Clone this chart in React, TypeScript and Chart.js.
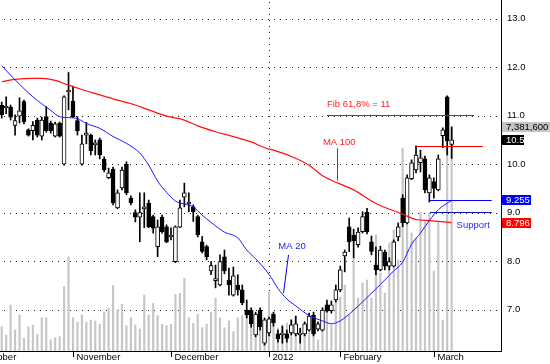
import React, { useEffect, useRef } from 'react';
import { Chart, registerables } from 'chart.js';

Chart.register(...registerables);

// ---- Data (daily candles, index 0..101) ----
const opens = [
  11.22, 11.16, 11.18, 10.80, 10.99, 11.29, 10.71, 10.69, 10.91, 10.58,
  10.98, 10.85, 10.58, 10.85, 10.00, 11.49, 11.30, 10.90, 10.00, 10.60,
  10.60, 10.40, 10.50, 10.10, 9.72, 9.90, 9.10, 9.51, 10.00, 9.30,
  9.00, 8.91, 9.08, 9.20, 8.92, 8.30, 8.91, 8.71, 8.50, 7.99,
  8.70, 9.32, 9.18, 9.12, 8.92, 8.40, 8.30, 7.80, 7.60, 7.51,
  8.09, 7.61, 7.30, 7.51, 7.41, 6.99, 6.99, 6.48, 6.99, 6.31,
  6.52, 6.91, 6.50, 6.48, 6.50, 6.52, 6.50, 6.48, 6.50, 6.58,
  6.89, 6.60, 6.58, 7.10, 6.98, 7.20, 7.41, 8.11, 8.71, 8.54,
  8.34, 8.61, 9.01, 8.40, 7.92, 7.82, 8.19, 7.90, 7.90, 8.50,
  9.30, 8.79, 9.70, 9.88, 10.03, 10.11, 9.41, 9.64, 9.47, 10.59,
  11.39, 10.41,
];
const highs = [
  11.28, 11.39, 11.22, 11.02, 11.37, 11.32, 10.73, 10.88, 10.95, 10.97,
  11.19, 10.89, 10.87, 10.87, 11.41, 11.89, 11.61, 10.98, 10.60, 10.86,
  10.62, 10.50, 10.54, 10.15, 9.92, 9.94, 9.47, 9.94, 10.05, 9.35,
  9.06, 9.41, 9.41, 9.26, 8.95, 8.85, 8.95, 8.75, 8.69, 8.73,
  9.26, 9.61, 9.41, 9.16, 8.95, 8.51, 8.33, 7.99, 7.92, 8.13,
  8.23, 7.86, 7.88, 7.72, 7.51, 7.20, 7.04, 6.95, 7.04, 6.83,
  6.85, 6.95, 6.58, 6.66, 6.58, 6.79, 6.87, 6.62, 6.75, 6.93,
  6.95, 6.75, 7.04, 7.20, 7.18, 7.51, 7.90, 8.23, 8.89, 8.66,
  8.69, 9.02, 9.09, 8.52, 8.29, 8.31, 8.23, 8.07, 8.44, 8.79,
  9.37, 9.78, 10.09, 10.38, 10.29, 10.17, 9.78, 9.72, 10.19, 10.75,
  11.41, 10.77,
];
const lows = [
  10.95, 11.04, 10.91, 10.60, 10.85, 10.83, 10.58, 10.50, 10.56, 10.50,
  10.66, 10.64, 10.56, 10.56, 9.98, 11.12, 10.96, 10.60, 9.98, 10.42,
  10.19, 10.19, 10.11, 9.84, 9.70, 9.16, 9.08, 9.47, 9.37, 9.16,
  8.81, 8.40, 8.69, 8.69, 8.58, 8.09, 8.58, 8.38, 8.44, 7.97,
  8.69, 9.12, 9.02, 8.82, 8.50, 8.17, 8.03, 7.72, 7.45, 7.49,
  7.74, 7.30, 7.28, 7.30, 7.10, 6.83, 6.64, 6.44, 6.58, 6.27,
  6.46, 6.66, 6.33, 6.31, 6.33, 6.48, 6.46, 6.31, 6.46, 6.56,
  6.46, 6.56, 6.56, 6.95, 6.93, 7.16, 7.37, 7.78, 8.20, 8.07,
  8.29, 8.58, 8.56, 8.13, 7.72, 7.80, 7.82, 7.82, 7.88, 8.42,
  8.71, 8.77, 9.68, 9.82, 9.84, 9.41, 9.22, 9.30, 9.45, 10.34,
  10.19, 10.12,
];
const closes = [
  11.02, 11.20, 10.97, 10.90, 11.10, 10.87, 10.60, 10.80, 10.60, 10.91,
  10.69, 10.69, 10.83, 10.58, 11.39, 11.53, 10.98, 10.69, 10.42, 10.64,
  10.28, 10.44, 10.19, 9.88, 9.82, 9.20, 9.41, 9.88, 9.41, 9.20,
  8.91, 9.00, 9.12, 8.71, 8.68, 8.71, 8.61, 8.40, 8.54, 8.71,
  9.10, 9.41, 9.22, 9.02, 8.54, 8.20, 8.09, 7.91, 7.64, 7.99,
  7.80, 7.51, 7.70, 7.41, 7.14, 6.89, 6.71, 6.91, 6.65, 6.79,
  6.81, 6.73, 6.40, 6.52, 6.41, 6.69, 6.71, 6.52, 6.71, 6.87,
  6.50, 6.71, 6.99, 6.97, 7.10, 7.41, 7.82, 8.19, 8.40, 8.42,
  8.60, 8.92, 8.61, 8.20, 7.82, 8.23, 7.90, 7.99, 8.40, 8.71,
  8.79, 9.72, 10.03, 10.19, 10.13, 9.47, 9.72, 9.50, 10.11, 10.71,
  10.48, 10.50,
];
const volumes = [
  831000, 558000, 1544000, 723000, 1215000, 450000, 831000, 887000, 581000, 1127000,
  1127000, 394000, 470000, 503000, 2145000, 3131000, 1127000, 976000, 1215000, 976000,
  1051000, 1018000, 910000, 1304000, 1436000, 2178000, 1380000, 1567000, 864000, 1127000,
  887000, 756000, 1873000, 1215000, 1600000, 1192000, 910000, 864000, 910000, 1895000,
  1928000, 2421000, 1127000, 943000, 1238000, 798000, 910000, 1304000, 1764000, 1127000,
  798000, 1018000, 667000, 1127000, 1192000, 1380000, 1314000, 1117000, 1445000, 1051000,
  1971000, 953000, 788000, 887000, 953000, 1051000, 1150000, 723000, 953000, 887000,
  1150000, 394000, 821000, 1610000, 887000, 1774000, 1807000, 2201000, 1215000, 3088000,
  1774000, 2267000, 2365000, 1774000, 3844000, 2595000, 1938000, 3581000, 4008000, 3022000,
  6702000, 4271000, 3909000, 3745000, 4599000, 4271000, 4566000, 2661000, 4271000, 1051000,
  6734000, 7381600,
];

// Moving averages (candle index -> value)
const ma20Idx = [0, 3, 7, 11, 13, 15, 17, 19, 22, 25, 28, 31, 33, 35, 37, 39, 41, 43, 45, 47, 50, 53, 55, 57, 60, 62, 64, 66, 69, 72, 74, 76, 79, 82, 85, 88, 90, 92, 94, 96, 98, 101];
const ma20Val = [12.03, 11.74, 11.39, 11.11, 10.98, 10.96, 10.94, 10.84, 10.74, 10.57, 10.43, 10.23, 9.98, 9.65, 9.42, 9.24, 9.18, 9.12, 8.95, 8.80, 8.60, 8.48, 8.23, 8.05, 7.73, 7.44, 7.22, 7.08, 6.88, 6.77, 6.71, 6.77, 6.99, 7.25, 7.52, 7.80, 7.98, 8.35, 8.58, 8.84, 9.06, 9.255];
const ma100Idx = [0, 3, 7, 9, 12, 15, 18, 22, 26, 30, 33, 37, 41, 44, 48, 52, 56, 59, 61, 65, 69, 72, 74, 79, 84, 90, 93, 96, 101];
const ma100Val = [11.70, 11.75, 11.77, 11.77, 11.73, 11.63, 11.54, 11.43, 11.32, 11.22, 11.12, 10.99, 10.91, 10.79, 10.67, 10.57, 10.46, 10.34, 10.29, 10.16, 9.98, 9.76, 9.67, 9.47, 9.19, 8.97, 8.86, 8.835, 8.796];

// Axis labels
const priceTicks = [7, 8, 9, 10, 11, 12, 13];
const monthLabels = ['October', 'November', 'December', '2012', 'February', 'March'];
const monthStarts = [-5, 16, 38, 60, 76, 97];

// Annotation levels
const fibLevel = 11;
const resistanceLevel = 10.37;
const supportLevel = 9.0;

// Annotation placements in data coordinates (candle index, price)
const hLines = [
  { level: fibLevel, from: 73, to: 106, color: '#ff0000' },
  { level: resistanceLevel, from: 93.2, to: 108, color: '#ff0000' },
  { level: ma20Val[ma20Val.length - 1], from: 96.1, to: 110, color: '#0000ff' },
  { level: supportLevel, from: 96.1, to: 110, color: '#1010b0' },
];
const pointers = [
  { x1: 75.2, y1: 10.33, x2: 75.2, y2: 9.66, color: '#ff0000' },
  { x1: 64.3, y1: 8.13, x2: 63.2, y2: 7.34, color: '#0000ff' },
];
const notes = [
  { text: 'Fib 61,8% = 11', x: 73, y: 11.24, color: '#ff2020' },
  { text: 'MA 100', x: 72.1, y: 10.46, color: '#ff2020' },
  { text: 'MA 20', x: 62.1, y: 8.3, color: '#2020ff' },
  { text: 'Support', x: 102.1, y: 8.73, color: '#2a2aff' },
];

const FONT = '9.5px "Liberation Sans", Arial, sans-serif';

const decor: any = {
  id: 'decor',
  beforeDraw(chart: any) {
    const { ctx, width, height } = chart;
    ctx.save();
    ctx.fillStyle = '#ffffff';
    ctx.fillRect(0, 0, width, height);
    ctx.restore();
  },
  beforeDatasetsDraw(chart: any) {
    const { ctx, chartArea: a, scales } = chart;
    const xs = scales.x, ys = scales.y;
    ctx.save();
    ctx.strokeStyle = '#202020';
    ctx.lineWidth = 1;
    ctx.setLineDash([1, 5]);
    for (const t of priceTicks) {
      const py = Math.round(ys.getPixelForValue(t)) + 0.5;
      ctx.beginPath();
      ctx.moveTo(a.left + 4, py);
      ctx.lineTo(a.right - 1, py);
      ctx.stroke();
    }
    const px = Math.round(xs.getPixelForValue(monthStarts[3])) + 0.5;
    ctx.beginPath();
    ctx.moveTo(px, a.top + 2);
    ctx.lineTo(px, a.bottom);
    ctx.stroke();
    ctx.restore();
  },
  afterDatasetsDraw(chart: any) {
    const { ctx, chartArea: a, scales } = chart;
    const X = (v: number) => scales.x.getPixelForValue(v);
    const Y = (v: number) => scales.y.getPixelForValue(v);
    ctx.save();
    ctx.lineWidth = 1;
    ctx.setLineDash([]);
    for (const h of hLines) {
      const py = Math.floor(Y(h.level)) + 0.5;
      ctx.strokeStyle = h.color;
      ctx.beginPath();
      ctx.moveTo(X(h.from), py);
      ctx.lineTo(X(h.to), py);
      ctx.stroke();
    }
    for (const p of pointers) {
      ctx.strokeStyle = p.color;
      ctx.beginPath();
      ctx.moveTo(Math.round(X(p.x1)) + 0.5, Y(p.y1));
      ctx.lineTo(Math.round(X(p.x2)) + 0.5, Y(p.y2));
      ctx.stroke();
    }
    ctx.font = FONT;
    ctx.textBaseline = 'middle';
    ctx.textAlign = 'left';
    for (const n of notes) {
      ctx.fillStyle = n.color;
      ctx.fillText(n.text, X(n.x), Y(n.y));
    }
    ctx.restore();

    // axes (drawn over everything in the plot)
    ctx.save();
    ctx.fillStyle = '#ffffff';
    ctx.fillRect(a.right, 0, chart.width - a.right, chart.height);
    ctx.fillRect(0, a.bottom, chart.width, chart.height - a.bottom);
    ctx.strokeStyle = '#000000';
    ctx.lineWidth = 1;
    ctx.beginPath();
    ctx.moveTo(a.right - 0.5, a.top);
    ctx.lineTo(a.right - 0.5, a.bottom);
    ctx.moveTo(a.left, a.bottom - 0.5);
    ctx.lineTo(a.right, a.bottom - 0.5);
    ctx.stroke();

    ctx.font = FONT;
    ctx.textBaseline = 'middle';
    ctx.textAlign = 'left';
    ctx.fillStyle = '#000000';
    for (let k = 0; k < monthLabels.length; k++) {
      const tx = Math.round(X(monthStarts[k])) + 0.5;
      ctx.beginPath();
      ctx.moveTo(tx, a.bottom);
      ctx.lineTo(tx, a.bottom + 5);
      ctx.stroke();
      ctx.fillText(monthLabels[k], tx + 3, a.bottom + 5.5);
    }
    for (const t of priceTicks) {
      ctx.fillText(t.toFixed(1), a.right + 5, Y(t));
    }

    const box = (text: string, cy: number, w: number, bg: string, fg: string) => {
      const top = Math.round(cy - 5);
      ctx.fillStyle = bg;
      ctx.fillRect(a.right, top, w, 10);
      ctx.fillStyle = fg;
      ctx.fillText(text, a.right + 4, top + 5.5);
    };
    const lastI = closes.length - 1;
    box(volumes[lastI].toLocaleString('en-US'), scales.yv.getPixelForValue(volumes[lastI]), 48, '#c4c4c4', '#000000');
    box(String(closes[lastI]), Y(closes[lastI]), 22, '#000000', '#ffffff');
    box(ma20Val[ma20Val.length - 1].toFixed(3), Y(ma20Val[ma20Val.length - 1]), 29, '#0000ff', '#ffffff');
    box(ma100Val[ma100Val.length - 1].toFixed(3), Y(ma100Val[ma100Val.length - 1]), 29, '#ff0000', '#ffffff');
    ctx.restore();
  },
};

export default function App() {
  const ref = useRef<HTMLCanvasElement>(null);
  useEffect(() => {
    const canvas = ref.current;
    if (!canvas) return;
    const idx = opens.map((_, i) => i);
    const chart = new Chart(canvas, {
      type: 'bar',
      data: {
        datasets: [
          {
            type: 'line',
            label: 'MA 20',
            data: ma20Idx.map((x, k) => ({ x, y: ma20Val[k] })),
            borderColor: '#1a1aff',
            borderWidth: 1,
            pointRadius: 0,
            cubicInterpolationMode: 'monotone',
            yAxisID: 'y',
            order: 0,
          } as any,
          {
            type: 'line',
            label: 'MA 100',
            data: ma100Idx.map((x, k) => ({ x, y: ma100Val[k] })),
            borderColor: '#ff1010',
            borderWidth: 1.2,
            pointRadius: 0,
            cubicInterpolationMode: 'monotone',
            yAxisID: 'y',
            order: 0,
          } as any,
          {
            type: 'bar',
            label: 'body',
            data: idx.map((i) => ({ x: i, y: [opens[i], closes[i]] })),
            backgroundColor: idx.map((i) => (closes[i] >= opens[i] ? '#ffffff' : '#000000')),
            borderColor: '#000000',
            borderWidth: 1,
            borderSkipped: false,
            barThickness: 4,
            grouped: false,
            yAxisID: 'y',
            order: 1,
          } as any,
          {
            type: 'bar',
            label: 'wick',
            data: idx.map((i) => ({ x: i, y: [lows[i], highs[i]] })),
            backgroundColor: '#000000',
            barThickness: 1,
            grouped: false,
            yAxisID: 'y',
            order: 2,
          } as any,
          {
            type: 'bar',
            label: 'volume',
            data: idx.map((i) => ({ x: i, y: volumes[i] })),
            backgroundColor: '#c6c6c6',
            barThickness: 1.5,
            grouped: false,
            yAxisID: 'yv',
            order: 10,
          } as any,
        ],
      },
      options: {
        animation: false,
        responsive: false,
        devicePixelRatio: 1,
        events: [],
        layout: { padding: { left: 0, top: 0, right: 48, bottom: 12 } },
        plugins: { legend: { display: false }, tooltip: { enabled: false } },
        scales: {
          x: { type: 'linear', min: -0.3816, max: 112.3, display: false, offset: false },
          y: { type: 'linear', min: 6.1278, max: 13.3856, display: false },
          yv: { type: 'linear', min: 0, max: 11563400, display: false },
        },
      } as any,
      plugins: [decor],
    });
    return () => chart.destroy();
  }, []);
  return (
    <div style={{ position: 'absolute', left: 0, top: 0, width: 550, height: 364, background: '#fff' }}>
      <canvas ref={ref} width={550} height={364} style={{ display: 'block' }} />
    </div>
  );
}
